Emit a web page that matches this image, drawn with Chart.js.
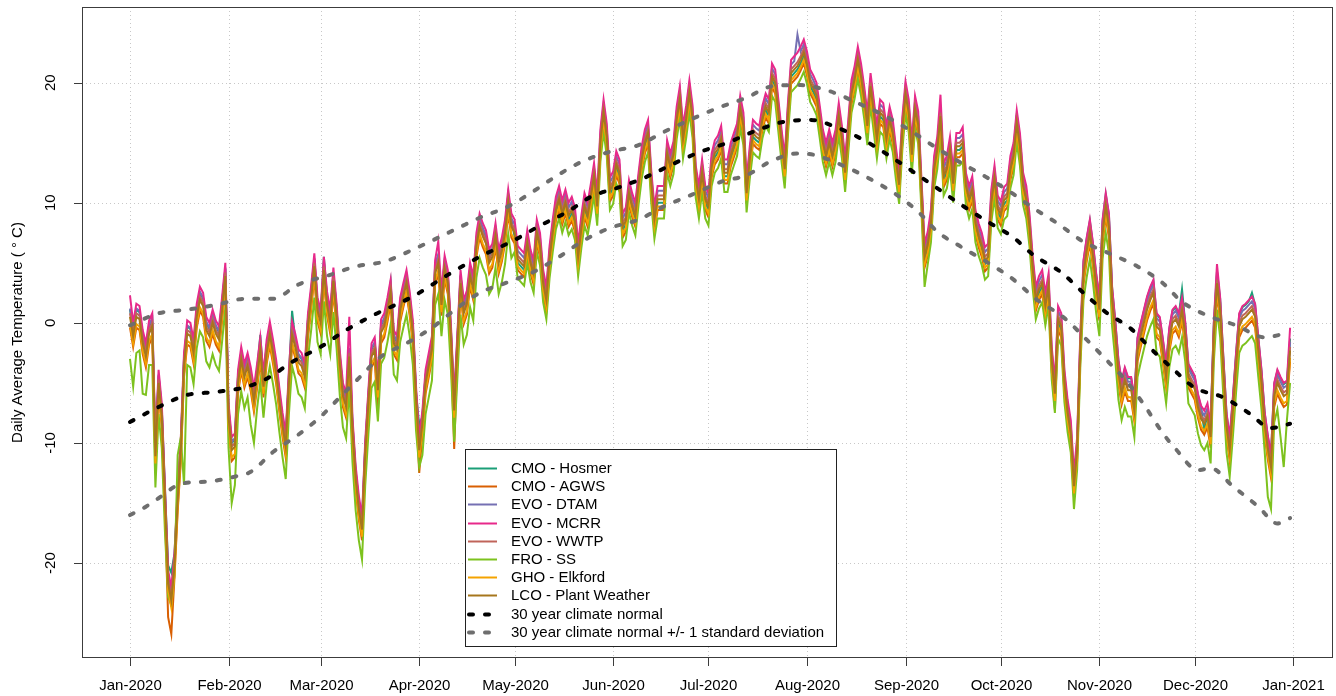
<!DOCTYPE html>
<html>
<head>
<meta charset="utf-8">
<title>Daily Average Temperature 2020</title>
<script src="https://cdn.jsdelivr.net/npm/chart.js@4.4.1/dist/chart.umd.min.js"></script>
<style>
  html, body { margin: 0; padding: 0; background: #fff; }
  #wrap { width: 1336px; height: 696px; }
</style>
</head>
<body>
<div id="wrap"><canvas id="tempChart" width="1336" height="696"></canvas></div>
<script>
// x axis: day of year 2020 (0 = Jan 1), ticks at month starts
const monthDays = [0, 31, 60, 91, 121, 152, 182, 213, 244, 274, 305, 335, 366];
const monthLabels = ['Jan-2020', 'Feb-2020', 'Mar-2020', 'Apr-2020', 'May-2020', 'Jun-2020',
    'Jul-2020', 'Aug-2020', 'Sep-2020', 'Oct-2020', 'Nov-2020', 'Dec-2020', 'Jan-2021'];
const yTicks = [-20, -10, 0, 10, 20];

const stationNames = ['CMO - Hosmer', 'CMO - AGWS', 'EVO - DTAM', 'EVO - MCRR', 'EVO - WWTP',
    'FRO - SS', 'GHO - Elkford', 'LCO - Plant Weather'];
const stationColors = ['#1B9E77', '#D95F02', '#7570B3', '#E7298A', '#C0645A', '#7DC21E', '#F4A300', '#A6761D'];

// daily average temperature, Jan 1 .. Dec 31 2020 (366 values each)
const hosmer = [
    1.1, -0.5, 1.1, 0.9, -1.1, -2.2, -0.3, 0.3, -10.5, -4.4, -7.2, -13.8, -20.2, -20.8, -19.2, -14.2, -10.0, -3.0, -0.3, -0.5,
    -1.9, 1.1, 2.5, 2.0, 0.0, -0.5, 0.6, -0.3, -0.8, 1.7, 4.5, -7.2, -10.0, -9.7, -4.4, -2.5, -3.9, -3.0, -4.2, -5.9,
    -3.9, -1.0, -4.7, -1.9, -0.4, -1.9, -3.6, -5.9, -8.0, -9.7, -4.4, 1.0, -1.4, -2.7, -3.0, -3.9, 0.3, 2.6, 5.3, 1.6,
    0.6, 5.5, 2.1, 0.6, 4.1, 1.1, -2.8, -5.5, -6.4, -2.2, -8.4, -12.4, -14.9, -16.6, -10.4, -6.1, -2.2, -1.7, -5.0, -0.2,
    0.3, 1.6, 3.4, -1.1, -1.6, 1.6, 2.8, 3.9, 2.1, -0.3, -5.8, -8.5, -7.8, -4.4, -3.0, -1.6, 4.7, 5.6, 2.1, 5.1,
    3.9, -0.8, -6.7, -1.4, 3.9, 1.4, 2.2, 4.5, 3.4, 7.0, 8.6, 7.8, 7.2, 5.6, 6.1, 7.8, 5.6, 6.6, 8.1, 10.6,
    8.6, 7.2, 5.0, 4.7, 4.4, 6.3, 4.7, 3.8, 8.3, 6.1, 3.0, 1.6, 5.0, 7.2, 9.1, 10.0, 8.8, 9.7, 8.6, 9.1,
    8.2, 5.2, 7.5, 9.4, 8.6, 10.2, 11.9, 9.4, 14.7, 17.2, 15.2, 10.7, 11.2, 12.9, 12.2, 7.7, 8.2, 10.5, 9.4, 8.6,
    11.1, 13.3, 14.7, 15.5, 11.3, 8.3, 10.0, 10.0, 10.0, 13.8, 12.7, 13.7, 16.6, 18.3, 15.0, 16.7, 18.8, 16.7, 11.7, 10.0,
    12.2, 10.0, 9.4, 12.7, 13.8, 14.2, 15.0, 12.2, 12.2, 13.6, 14.4, 15.2, 17.5, 16.1, 10.5, 13.3, 15.5, 15.2, 15.0, 16.7,
    17.7, 17.2, 20.2, 19.7, 17.2, 14.7, 12.5, 16.9, 20.5, 20.8, 21.1, 21.6, 22.2, 21.2, 19.7, 19.2, 18.6, 16.7, 14.7, 13.6,
    14.7, 13.6, 14.7, 16.9, 15.0, 12.2, 15.5, 18.8, 20.0, 21.6, 20.2, 18.3, 16.1, 19.4, 17.2, 15.0, 17.2, 16.9, 15.0, 16.6,
    15.5, 13.2, 11.2, 15.7, 18.7, 17.2, 13.7, 17.5, 16.2, 10.7, 5.2, 6.2, 8.0, 12.5, 14.1, 16.9, 11.9, 12.5, 14.1, 11.3,
    14.4, 14.4, 14.7, 11.1, 10.0, 10.8, 8.0, 6.9, 6.1, 4.9, 5.2, 9.7, 11.7, 9.2, 8.7, 9.9, 10.2, 12.5, 13.6, 17.3,
    14.4, 11.1, 10.0, 7.7, 4.2, 1.6, 2.5, 3.0, 1.1, 2.7, -3.4, -6.2, 0.0, -0.6, -5.3, -7.8, -9.5, -13.9, -10.9, -2.3,
    5.1, 7.0, 8.5, 6.5, 4.0, 2.1, 8.5, 10.7, 9.0, 2.9, 0.1, -3.2, -4.9, -3.8, -4.6, -4.6, -6.3, -1.3, -0.1, 1.0,
    2.1, 2.9, 3.5, 0.7, 0.4, -1.5, -3.5, -0.5, 1.0, 1.3, 0.7, 2.8, 0.0, -3.5, -4.0, -4.5, -6.0, -7.0, -9.0, -7.5,
    -8.5, -0.1, 4.3, 2.0, -2.9, -7.6, -9.6, -6.3, -2.6, 0.7, 1.3, 1.5, 1.8, 2.5, 1.5, -1.3, -4.0, -7.5, -9.5, -11.0,
    -5.1, -4.0, -4.6, -5.1, -4.9, -1.3
];
const agws = [
    -0.4, -2.0, -0.4, -0.6, -2.6, -3.7, -1.8, -1.2, -12.0, -5.9, -8.7, -15.7, -24.5, -25.9, -21.2, -15.7, -11.5, -4.5, -1.8, -2.0,
    -3.4, -0.4, 1.0, 0.5, -1.5, -2.0, -0.9, -1.8, -2.3, 0.2, 3.0, -8.7, -11.5, -11.2, -5.9, -4.0, -5.4, -4.5, -5.7, -7.4,
    -5.4, -3.2, -6.2, -3.4, -1.9, -3.4, -5.1, -7.4, -9.5, -11.2, -5.9, -1.9, -2.9, -4.2, -4.5, -5.4, -1.2, 1.1, 3.8, 0.1,
    -0.9, 3.5, 0.6, -0.9, 2.6, -0.4, -4.3, -7.0, -7.9, -3.7, -9.9, -13.9, -16.4, -18.1, -11.9, -7.6, -3.7, -3.2, -7.5, -1.7,
    -1.2, 0.1, 1.6, -2.6, -3.1, 0.1, 1.3, 2.4, 0.6, -1.8, -7.3, -12.5, -9.3, -5.9, -4.5, -3.1, 3.2, 4.1, 0.6, 3.6,
    2.4, -2.3, -10.5, -2.9, 2.4, -0.1, 0.7, 3.0, 1.9, 5.5, 7.1, 6.3, 5.7, 4.1, 4.6, 6.3, 4.1, 5.1, 6.6, 9.1,
    7.1, 6.6, 4.4, 4.1, 3.8, 5.7, 4.1, 3.2, 6.6, 5.5, 2.4, 1.0, 4.4, 6.6, 8.5, 9.4, 8.2, 9.1, 8.0, 8.5,
    7.6, 4.6, 6.9, 8.8, 8.0, 9.6, 11.3, 8.8, 14.1, 16.6, 14.6, 10.1, 10.6, 12.3, 11.6, 7.1, 7.6, 9.9, 8.8, 8.0,
    10.5, 12.7, 14.1, 14.9, 10.7, 7.7, 9.4, 9.4, 9.4, 13.2, 12.1, 13.1, 16.0, 17.7, 14.4, 16.1, 18.2, 16.1, 11.1, 9.4,
    11.6, 9.4, 8.8, 12.1, 13.2, 13.6, 14.4, 11.6, 11.6, 13.0, 13.8, 14.6, 16.9, 15.5, 9.9, 12.7, 14.9, 14.6, 14.4, 16.1,
    17.1, 16.6, 19.6, 19.1, 16.6, 14.1, 11.9, 16.3, 19.9, 20.2, 20.5, 21.0, 21.6, 20.6, 19.1, 18.6, 18.0, 16.1, 14.1, 13.0,
    14.1, 13.0, 14.1, 16.3, 14.4, 11.6, 14.9, 18.2, 19.4, 21.0, 19.6, 17.7, 15.5, 18.8, 16.6, 14.4, 16.6, 16.3, 14.4, 16.0,
    14.9, 12.6, 10.6, 15.1, 18.1, 16.6, 13.1, 16.9, 15.6, 10.1, 4.6, 5.6, 7.4, 11.9, 13.5, 16.3, 11.3, 11.9, 13.5, 10.7,
    13.8, 13.8, 14.1, 10.5, 9.4, 10.2, 7.4, 6.3, 5.5, 4.3, 4.6, 9.1, 11.1, 8.6, 8.1, 9.3, 9.6, 11.9, 13.0, 15.7,
    13.8, 10.5, 9.4, 7.1, 3.6, 1.0, 1.9, 2.4, 0.5, 2.1, -4.0, -7.2, -0.6, -1.2, -5.9, -8.4, -10.1, -14.5, -11.5, -2.9,
    3.2, 5.1, 6.6, 4.6, 2.1, 0.2, 6.6, 8.8, 7.1, 1.0, -1.8, -5.1, -6.8, -5.7, -6.5, -6.5, -8.2, -3.2, -2.0, -0.9,
    0.2, 1.0, 1.6, -1.2, -1.5, -3.4, -5.4, -2.4, -0.9, -0.6, -1.2, 0.1, -1.9, -5.4, -5.9, -6.4, -7.9, -8.9, -9.3, -8.7,
    -10.4, -2.0, 2.4, 0.1, -4.8, -9.5, -11.5, -8.2, -4.5, -1.2, -0.6, -0.4, -0.1, 0.2, -0.4, -3.2, -5.9, -9.4, -11.4, -12.9,
    -7.0, -5.9, -6.5, -7.0, -6.8, -3.2
];
const dtam = [
    1.2, -0.4, 1.2, 1.0, -1.0, -2.1, -0.2, 0.4, -10.4, -4.3, -7.1, -14.1, -21.0, -22.4, -19.6, -14.1, -9.9, -2.9, -0.2, -0.4,
    -1.8, 1.2, 2.6, 2.1, 0.1, -0.4, 0.7, -0.2, -0.7, 1.8, 4.6, -7.1, -9.9, -9.6, -4.3, -2.4, -3.8, -2.9, -4.1, -5.8,
    -3.8, -1.6, -4.6, -1.8, -0.3, -1.8, -3.5, -5.8, -7.9, -9.6, -4.3, -0.3, -1.3, -2.6, -2.9, -3.8, 0.4, 2.7, 5.4, 1.7,
    0.7, 5.1, 2.2, 0.7, 4.2, 1.2, -2.7, -5.4, -6.3, -2.1, -8.3, -12.3, -14.8, -16.5, -10.3, -6.0, -2.1, -1.6, -4.9, -0.1,
    0.4, 1.7, 3.2, -1.0, -1.5, 1.7, 2.9, 4.0, 2.2, -0.2, -5.7, -9.9, -7.7, -4.3, -2.9, -1.5, 4.8, 5.7, 2.2, 5.2,
    4.0, -0.7, -6.6, -1.3, 4.0, 1.5, 2.3, 4.6, 3.5, 7.1, 8.7, 7.9, 7.3, 5.7, 6.2, 7.9, 5.7, 6.7, 8.2, 10.7,
    8.7, 8.2, 6.0, 5.7, 5.4, 7.3, 5.7, 4.8, 8.2, 7.1, 4.0, 2.6, 6.0, 8.2, 10.1, 11.0, 9.8, 10.7, 9.6, 10.1,
    9.2, 6.2, 8.5, 10.4, 9.6, 11.2, 12.9, 10.4, 15.7, 18.2, 16.2, 11.7, 12.2, 13.9, 13.2, 8.7, 9.2, 11.5, 10.4, 9.6,
    12.1, 14.3, 15.7, 16.5, 12.3, 9.3, 11.0, 11.0, 11.0, 14.8, 13.7, 14.7, 17.6, 19.3, 16.0, 17.7, 19.8, 17.7, 12.7, 11.0,
    13.2, 11.0, 10.4, 13.7, 14.8, 15.2, 16.0, 13.2, 13.2, 14.6, 15.4, 16.2, 18.5, 17.1, 11.5, 14.3, 16.5, 16.2, 16.0, 17.7,
    18.7, 18.2, 21.2, 20.7, 18.2, 15.7, 13.5, 17.9, 21.5, 21.8, 24.0, 22.6, 23.2, 22.2, 20.7, 20.2, 19.6, 17.7, 15.7, 14.6,
    15.7, 14.6, 15.7, 17.9, 16.0, 13.2, 16.5, 19.8, 21.0, 22.6, 21.2, 19.3, 17.1, 20.4, 18.2, 16.0, 18.2, 17.9, 16.0, 17.6,
    16.5, 14.2, 12.2, 16.7, 19.7, 18.2, 14.7, 18.5, 17.2, 11.7, 6.2, 7.2, 9.0, 13.5, 15.1, 17.9, 12.9, 13.5, 15.1, 12.3,
    15.4, 15.4, 15.7, 12.1, 11.0, 11.8, 9.0, 7.9, 7.1, 5.9, 6.2, 10.7, 12.7, 10.2, 9.7, 10.9, 11.2, 13.5, 14.6, 17.3,
    15.4, 12.1, 11.0, 8.7, 5.2, 2.6, 3.5, 4.0, 2.1, 3.7, -2.4, -5.2, 1.0, 0.4, -4.3, -6.8, -8.5, -12.9, -9.9, -1.3,
    4.8, 6.7, 8.2, 6.2, 3.7, 1.8, 8.2, 10.4, 8.7, 2.6, -0.2, -3.5, -5.2, -4.1, -4.9, -4.9, -6.6, -1.6, -0.4, 0.7,
    1.8, 2.6, 3.2, 0.4, 0.1, -1.8, -3.8, -0.8, 0.7, 1.0, 0.4, 1.7, -0.3, -3.8, -4.3, -4.8, -6.3, -7.3, -7.7, -7.1,
    -8.8, -0.4, 4.0, 1.7, -3.2, -7.9, -9.9, -6.6, -2.9, 0.4, 1.0, 1.2, 1.5, 1.8, 1.2, -1.6, -4.3, -7.8, -9.8, -11.3,
    -5.4, -4.3, -4.9, -5.4, -5.2, -1.6
];
const mcrr = [
    2.3, 0.0, 1.6, 1.4, -0.6, -1.7, 0.2, 0.8, -10.0, -3.9, -6.7, -13.7, -20.6, -22.0, -19.2, -13.7, -9.5, -2.5, 0.2, 0.0,
    -1.4, 1.6, 3.0, 2.5, 0.5, 0.0, 1.1, 0.2, -0.3, 2.2, 5.0, -6.7, -9.5, -9.2, -3.9, -2.0, -3.4, -2.5, -3.7, -5.4,
    -3.4, -1.2, -4.2, -1.4, 0.1, -1.4, -3.1, -5.4, -7.5, -9.2, -3.9, 0.1, -0.9, -2.2, -2.5, -3.4, 0.8, 3.1, 5.8, 2.1,
    1.1, 5.5, 2.6, 1.1, 4.6, 1.6, -2.3, -5.0, -5.9, 0.5, -7.9, -11.9, -14.4, -16.1, -9.9, -5.6, -1.7, -1.2, -4.5, 0.3,
    0.8, 2.1, 3.6, -0.6, -1.1, 2.1, 3.3, 4.4, 2.6, 0.2, -5.3, -9.5, -7.3, -3.9, -2.5, -1.1, 5.2, 6.8, 2.6, 5.6,
    4.4, -0.3, -6.2, -0.9, 4.4, 1.9, 2.7, 5.0, 3.9, 7.5, 9.1, 8.3, 7.7, 6.1, 6.6, 8.3, 6.1, 7.1, 8.6, 11.1,
    9.1, 8.6, 6.4, 6.1, 5.8, 7.7, 6.1, 5.2, 8.6, 7.5, 4.4, 3.0, 6.4, 8.6, 10.5, 11.4, 10.2, 11.1, 10.0, 10.5,
    9.6, 6.6, 8.9, 10.8, 10.0, 11.6, 13.3, 10.8, 16.1, 18.6, 16.6, 12.1, 12.6, 14.3, 13.6, 9.1, 9.6, 11.9, 10.8, 10.0,
    12.5, 14.7, 16.1, 16.9, 12.7, 9.7, 11.4, 11.4, 11.4, 15.2, 14.1, 15.1, 18.0, 19.7, 16.4, 18.1, 20.2, 18.1, 13.1, 11.4,
    13.6, 11.4, 10.8, 14.1, 15.2, 15.6, 16.4, 13.6, 13.6, 15.0, 15.8, 16.6, 18.9, 17.5, 11.9, 14.7, 16.9, 16.6, 16.4, 18.1,
    19.1, 18.6, 21.6, 21.1, 18.6, 16.1, 13.9, 18.3, 21.9, 22.2, 22.5, 23.0, 23.6, 22.6, 21.1, 20.6, 20.0, 18.1, 16.1, 15.0,
    16.1, 15.0, 16.1, 18.3, 16.4, 13.6, 16.9, 20.2, 21.4, 23.0, 21.6, 19.7, 17.5, 20.8, 18.6, 16.4, 18.6, 18.3, 16.4, 18.0,
    16.9, 14.6, 12.6, 17.1, 20.1, 18.6, 15.1, 18.9, 17.6, 12.1, 6.6, 7.6, 9.4, 13.9, 15.5, 19.0, 13.3, 13.9, 15.5, 12.7,
    15.8, 15.8, 16.3, 12.5, 11.4, 12.2, 9.4, 8.3, 7.5, 6.3, 6.6, 11.1, 13.1, 10.6, 10.1, 11.3, 11.6, 13.9, 15.0, 17.7,
    15.8, 12.5, 11.4, 9.1, 5.6, 3.0, 3.9, 4.4, 2.5, 4.1, -2.0, -4.8, 1.4, 0.8, -3.9, -6.4, -8.1, -12.5, -9.5, -0.9,
    5.2, 7.1, 8.6, 6.6, 4.1, 2.2, 8.6, 10.8, 9.1, 3.0, 0.2, -3.1, -4.8, -3.7, -4.5, -4.5, -6.2, -1.2, 0.0, 1.1,
    2.2, 3.0, 3.6, 0.8, 0.5, -1.4, -3.4, -0.4, 1.1, 1.4, 0.8, 2.1, 0.1, -3.4, -3.9, -4.4, -5.9, -6.9, -7.3, -6.7,
    -8.4, 0.0, 4.9, 2.1, -2.8, -7.5, -9.5, -6.2, -2.5, 0.8, 1.4, 1.6, 1.9, 2.2, 1.6, -1.2, -3.9, -7.4, -9.4, -10.9,
    -5.0, -3.9, -4.5, -5.0, -4.8, -0.4
];
const wwtp = [
    0.8, -0.8, 0.8, 0.6, -1.4, -2.5, -0.6, 0.0, -10.8, -4.7, -7.5, -14.5, -21.4, -22.8, -20.0, -14.5, -10.3, -3.3, -0.6, -0.8,
    -2.2, 0.8, 2.2, 1.7, -0.3, -0.8, 0.3, -0.6, -1.1, 1.4, 4.2, -7.5, -10.3, -10.0, -4.7, -2.8, -4.2, -3.3, -4.5, -6.2,
    -4.2, -2.0, -5.0, -2.2, -0.7, -2.2, -3.9, -6.2, -8.3, -10.0, -4.7, -0.7, -1.7, -3.0, -3.3, -4.2, 0.0, 2.3, 5.0, 1.3,
    0.3, 4.7, 1.8, 0.3, 3.8, 0.8, -3.1, -5.8, -6.7, -2.5, -8.7, -12.7, -15.2, -16.9, -10.7, -6.4, -2.5, -2.0, -5.3, -0.5,
    0.0, 1.3, 2.8, -1.4, -1.9, 1.3, 2.5, 3.6, 1.8, -0.6, -6.1, -10.3, -8.1, -4.7, -3.3, -1.9, 4.4, 5.3, 1.8, 4.8,
    3.6, -1.1, -7.0, -1.7, 3.6, 1.1, 1.9, 4.2, 3.1, 6.7, 8.3, 7.5, 6.9, 5.3, 5.8, 7.5, 5.3, 6.3, 7.8, 10.3,
    8.3, 7.8, 5.6, 5.3, 5.0, 6.9, 5.3, 4.4, 7.8, 6.7, 3.6, 2.2, 5.6, 7.8, 9.7, 10.6, 9.4, 10.3, 9.2, 9.7,
    8.8, 5.8, 8.1, 10.0, 9.2, 10.8, 12.5, 10.0, 15.3, 17.8, 15.8, 11.3, 11.8, 13.5, 12.8, 8.3, 8.8, 11.1, 10.0, 9.2,
    11.7, 13.9, 15.3, 16.1, 11.9, 8.9, 10.6, 10.6, 10.6, 14.4, 13.3, 14.3, 17.2, 18.9, 15.6, 17.3, 19.4, 17.3, 12.3, 10.6,
    12.8, 10.6, 10.0, 13.3, 14.4, 14.8, 15.6, 12.8, 12.8, 14.2, 15.0, 15.8, 18.1, 16.7, 11.1, 13.9, 16.1, 15.8, 15.6, 17.3,
    18.3, 17.8, 20.8, 20.3, 17.8, 15.3, 13.1, 17.5, 21.1, 21.4, 21.7, 22.2, 22.8, 21.8, 20.3, 19.8, 19.2, 17.3, 15.3, 14.2,
    15.3, 14.2, 15.3, 17.5, 15.6, 12.8, 16.1, 19.4, 20.6, 22.2, 20.8, 18.9, 16.7, 20.0, 17.8, 15.6, 17.8, 17.5, 15.6, 17.2,
    16.1, 13.8, 11.8, 16.3, 19.3, 17.8, 14.3, 18.1, 16.8, 11.3, 5.8, 6.8, 8.6, 13.1, 14.7, 17.5, 12.5, 13.1, 14.7, 11.9,
    15.0, 15.0, 15.3, 11.7, 10.6, 11.4, 8.6, 7.5, 6.7, 5.5, 5.8, 10.3, 12.3, 9.8, 9.3, 10.5, 10.8, 13.1, 14.2, 16.9,
    15.0, 11.7, 10.6, 8.3, 4.8, 2.2, 3.1, 3.6, 1.7, 3.3, -2.8, -5.6, 0.6, 0.0, -4.7, -7.2, -8.9, -13.3, -10.3, -1.7,
    4.4, 6.3, 7.8, 5.8, 3.3, 1.4, 7.8, 10.0, 8.3, 2.2, -0.6, -3.9, -5.6, -4.5, -5.3, -5.3, -7.0, -2.0, -0.8, 0.3,
    1.4, 2.2, 2.8, 0.0, -0.3, -2.2, -4.2, -1.2, 0.3, 0.6, 0.0, 1.3, -0.7, -4.2, -4.7, -5.2, -6.7, -7.7, -8.1, -7.5,
    -9.2, -0.8, 3.6, 1.3, -3.6, -8.3, -10.3, -7.0, -3.3, 0.0, 0.6, 0.8, 1.1, 1.4, 0.8, -2.0, -4.7, -8.2, -10.2, -11.7,
    -5.8, -4.7, -5.3, -5.8, -5.6, -2.0
];
const froSS = [
    -3.0, -5.3, -2.5, -2.3, -5.9, -6.0, -3.5, -3.5, -13.7, -7.6, -10.4, -17.4, -22.8, -23.5, -21.0, -11.0, -9.5, -13.5, -3.5, -3.7,
    -5.1, -2.1, -0.7, -1.2, -3.2, -3.7, -2.6, -3.5, -4.0, -1.5, 1.3, -10.4, -15.0, -13.5, -7.6, -5.7, -7.1, -6.2, -8.5, -10.0,
    -7.1, -4.9, -7.9, -5.1, -3.6, -5.1, -6.8, -9.1, -11.2, -13.0, -7.6, -3.6, -4.6, -5.9, -6.2, -7.1, -2.9, -0.6, 2.1, -1.6,
    -2.6, 1.8, -1.1, -2.6, 0.9, -2.1, -6.0, -8.7, -9.6, -5.4, -11.6, -15.6, -18.1, -19.7, -13.6, -9.3, -5.4, -4.9, -8.2, -3.4,
    -2.9, -1.6, -0.1, -4.3, -4.8, -1.6, -0.4, 0.7, -1.1, -3.5, -9.0, -12.0, -11.0, -7.6, -6.2, -4.8, 1.5, 2.4, -1.1, 1.9,
    0.7, -4.0, -9.9, -4.6, 0.7, -1.8, -1.0, 1.3, 0.2, 3.8, 5.4, 4.6, 4.0, 2.4, 2.9, 4.6, 2.4, 3.4, 4.9, 7.4,
    5.4, 5.9, 3.7, 3.4, 3.1, 5.0, 3.4, 2.5, 5.9, 4.8, 1.7, 0.3, 3.7, 5.9, 7.8, 8.7, 7.5, 8.4, 7.3, 7.8,
    6.9, 3.9, 6.2, 8.1, 7.3, 8.9, 10.6, 8.1, 13.4, 15.9, 13.9, 9.4, 9.9, 11.6, 10.9, 6.4, 6.9, 9.2, 8.1, 7.3,
    9.8, 12.0, 13.4, 14.2, 10.0, 7.0, 8.7, 8.7, 8.7, 12.5, 11.4, 12.4, 15.3, 17.0, 13.7, 15.4, 17.5, 15.4, 10.4, 8.7,
    10.9, 8.7, 8.1, 11.4, 12.5, 12.9, 13.7, 10.9, 10.9, 12.3, 13.1, 13.9, 16.2, 14.8, 9.2, 12.0, 14.2, 13.9, 13.7, 15.4,
    16.4, 15.9, 18.9, 18.4, 15.9, 13.4, 11.2, 15.6, 19.2, 19.5, 19.8, 20.3, 20.9, 19.9, 18.4, 17.9, 17.3, 15.4, 13.4, 12.3,
    13.4, 12.3, 13.4, 15.6, 13.7, 10.9, 14.2, 17.5, 18.7, 20.3, 18.9, 17.0, 14.8, 18.1, 15.9, 13.7, 15.9, 15.6, 13.7, 15.3,
    14.2, 11.9, 9.9, 14.4, 17.4, 15.9, 12.4, 16.2, 14.9, 9.4, 3.0, 4.9, 6.7, 11.2, 12.8, 15.6, 10.6, 11.2, 12.8, 10.0,
    13.1, 13.1, 13.4, 9.8, 8.7, 9.5, 6.7, 5.6, 4.8, 3.6, 3.9, 8.4, 10.4, 7.9, 7.4, 8.6, 8.9, 11.2, 12.3, 15.0,
    13.1, 9.8, 8.7, 6.4, 2.9, 0.3, 1.2, 1.7, -0.2, 1.4, -4.7, -7.5, -1.3, -1.9, -6.6, -9.1, -10.8, -15.5, -12.2, -3.6,
    1.9, 3.8, 5.3, 3.3, 0.8, -1.1, 5.3, 7.5, 5.8, -0.3, -3.1, -6.4, -8.1, -7.0, -7.8, -7.8, -9.5, -4.5, -3.3, -2.2,
    -1.1, -0.3, 0.3, -2.5, -2.8, -4.7, -6.7, -3.7, -2.2, -1.9, -2.5, -1.2, -3.2, -6.7, -7.2, -7.7, -9.2, -10.2, -10.6, -10.0,
    -11.7, -3.3, 1.1, -1.2, -6.1, -10.8, -12.8, -9.5, -5.8, -2.5, -1.9, -1.7, -1.4, -1.1, -1.7, -4.5, -7.2, -10.7, -14.5, -15.5,
    -8.3, -7.2, -9.5, -12.0, -8.1, -5.0
];
const elkford = [
    -0.1, -1.7, -0.1, -0.3, -2.3, -3.4, -1.5, -0.9, -11.7, -5.6, -8.4, -15.4, -22.3, -23.7, -20.9, -15.4, -11.2, -4.2, -1.5, -1.7,
    -3.1, -0.1, 1.3, 0.8, -1.2, -1.7, -0.6, -1.5, -2.0, 0.5, 3.3, -8.4, -11.2, -10.9, -5.6, -3.7, -5.1, -4.2, -5.4, -7.1,
    -5.1, -2.9, -5.9, -3.1, -1.6, -3.1, -4.8, -7.1, -9.2, -10.9, -5.6, -1.6, -2.6, -3.9, -4.2, -5.1, -0.9, 1.4, 4.1, 0.4,
    -0.6, 3.8, 0.9, -0.6, 2.9, -0.1, -4.0, -6.7, -7.6, -3.4, -9.6, -13.6, -16.1, -17.8, -11.6, -7.3, -3.4, -2.9, -6.2, -1.4,
    -0.9, 0.4, 1.9, -2.3, -2.8, 0.4, 1.6, 2.7, 0.9, -1.5, -7.0, -11.2, -9.0, -5.6, -4.2, -2.8, 3.5, 4.4, 0.9, 3.9,
    2.7, -2.0, -7.9, -2.6, 2.7, 0.2, 1.0, 3.3, 2.2, 5.8, 7.4, 6.6, 6.0, 4.4, 4.9, 6.6, 4.4, 5.4, 6.9, 9.4,
    7.4, 6.9, 4.7, 4.4, 4.1, 6.0, 4.4, 3.5, 6.9, 5.8, 2.7, 1.3, 4.7, 6.9, 8.8, 9.7, 8.5, 9.4, 8.3, 8.8,
    7.9, 4.9, 7.2, 9.1, 8.3, 9.9, 11.6, 9.1, 14.4, 16.9, 14.9, 10.4, 10.9, 12.6, 11.9, 7.4, 7.9, 10.2, 9.1, 8.3,
    10.8, 13.0, 14.4, 15.2, 11.0, 8.0, 9.7, 9.7, 9.7, 13.5, 12.4, 13.4, 16.3, 18.0, 14.7, 16.4, 18.5, 16.4, 11.4, 9.7,
    11.9, 9.7, 9.1, 12.4, 13.5, 13.9, 14.7, 11.9, 11.9, 13.3, 14.1, 14.9, 17.2, 15.8, 10.2, 13.0, 15.2, 14.9, 14.7, 16.4,
    17.4, 16.9, 19.9, 19.4, 16.9, 14.4, 12.2, 16.6, 20.2, 20.5, 20.8, 21.3, 21.9, 20.9, 19.4, 18.9, 18.3, 16.4, 14.4, 13.3,
    14.4, 13.3, 14.4, 16.6, 14.7, 11.9, 15.2, 18.5, 19.7, 21.3, 19.9, 18.0, 15.8, 19.1, 16.9, 14.7, 16.9, 16.6, 14.7, 16.3,
    15.2, 12.9, 10.9, 15.4, 18.4, 16.9, 13.4, 17.2, 15.9, 10.4, 4.9, 5.9, 7.7, 12.2, 13.8, 16.6, 11.6, 12.2, 13.8, 11.0,
    14.1, 14.1, 14.4, 10.8, 9.7, 10.5, 7.7, 6.6, 5.8, 4.6, 4.9, 9.4, 11.4, 8.9, 8.4, 9.6, 9.9, 12.2, 13.3, 16.0,
    14.1, 10.8, 9.7, 7.4, 3.9, 1.3, 2.2, 2.7, 0.8, 2.4, -3.7, -6.5, -0.3, -0.9, -5.6, -8.1, -9.8, -14.2, -11.2, -2.6,
    3.5, 5.4, 6.9, 4.9, 2.4, 0.5, 6.9, 9.1, 7.4, 1.3, -1.5, -4.8, -6.5, -5.4, -6.2, -6.2, -7.9, -2.9, -1.7, -0.6,
    0.5, 1.3, 1.9, -0.9, -1.2, -3.1, -5.1, -2.1, -0.6, -0.3, -0.9, 0.4, -1.6, -5.1, -5.6, -6.1, -7.6, -8.6, -9.0, -8.4,
    -10.1, -1.7, 2.7, 0.4, -4.5, -9.2, -11.2, -7.9, -4.2, -0.9, -0.3, -0.1, 0.2, 0.5, -0.1, -2.9, -5.6, -9.1, -11.1, -12.6,
    -6.7, -5.6, -6.2, -6.7, -6.5, -2.9
];
const lcoPlant = [
    0.5, -1.1, 0.5, 0.3, -1.7, -2.8, -0.9, -0.3, -11.1, -5.0, -7.8, -14.8, -21.7, -23.1, -20.3, -14.8, -10.6, -3.6, -0.9, -1.1,
    -2.5, 0.5, 1.9, 1.4, -0.6, -1.1, 0.0, -0.9, -1.4, 1.1, 3.9, -7.8, -10.6, -10.3, -5.0, -3.1, -4.5, -3.6, -4.8, -6.5,
    -4.5, -2.3, -5.3, -2.5, -1.0, -2.5, -4.2, -6.5, -8.6, -10.3, -5.0, -1.0, -2.0, -3.3, -3.6, -4.5, -0.3, 2.0, 4.7, 1.0,
    0.0, 4.4, 1.5, 0.0, 3.5, 0.5, -3.4, -6.1, -7.0, -2.8, -9.0, -13.0, -15.5, -17.2, -11.0, -6.7, -2.8, -2.3, -5.6, -0.8,
    -0.3, 1.0, 2.5, -1.7, -2.2, 1.0, 2.2, 3.3, 1.5, -0.9, -6.4, -10.6, -8.4, -5.0, -3.6, -2.2, 4.1, 5.0, 1.5, 4.5,
    3.3, -1.4, -7.3, -2.0, 3.3, 0.8, 1.6, 3.9, 2.8, 6.4, 8.0, 7.2, 6.6, 5.0, 5.5, 7.2, 5.0, 6.0, 7.5, 10.0,
    8.0, 7.5, 5.3, 5.0, 4.7, 6.6, 5.0, 4.1, 7.5, 6.4, 3.3, 1.9, 5.3, 7.5, 9.4, 10.3, 9.1, 10.0, 8.9, 9.4,
    8.5, 5.5, 7.8, 9.7, 8.9, 10.5, 12.2, 9.7, 15.0, 17.5, 15.5, 11.0, 11.5, 13.2, 12.5, 8.0, 8.5, 10.8, 9.7, 8.9,
    11.4, 13.6, 15.0, 15.8, 11.6, 8.6, 10.3, 10.3, 10.3, 14.1, 13.0, 14.0, 16.9, 18.6, 15.3, 17.0, 19.1, 17.0, 12.0, 10.3,
    12.5, 10.3, 9.7, 13.0, 14.1, 14.5, 15.3, 12.5, 12.5, 13.9, 14.7, 15.5, 17.8, 16.4, 10.8, 13.6, 15.8, 15.5, 15.3, 17.0,
    18.0, 17.5, 20.5, 20.0, 17.5, 15.0, 12.8, 17.2, 20.8, 21.1, 21.4, 21.9, 22.5, 21.5, 20.0, 19.5, 18.9, 17.0, 15.0, 13.9,
    15.0, 13.9, 15.0, 17.2, 15.3, 12.5, 15.8, 19.1, 20.3, 21.9, 20.5, 18.6, 16.4, 19.7, 17.5, 15.3, 17.5, 17.2, 15.3, 16.9,
    15.8, 13.5, 11.5, 16.0, 19.0, 17.5, 14.0, 17.8, 16.5, 11.0, 5.5, 6.5, 8.3, 12.8, 14.4, 17.2, 12.2, 12.8, 14.4, 11.6,
    14.7, 14.7, 15.0, 11.4, 10.3, 11.1, 8.3, 7.2, 6.4, 5.2, 5.5, 10.0, 12.0, 9.5, 9.0, 10.2, 10.5, 12.8, 13.9, 16.6,
    14.7, 11.4, 10.3, 8.0, 4.5, 1.9, 2.8, 3.3, 1.4, 3.0, -3.1, -5.9, 0.3, -0.3, -5.0, -7.5, -9.2, -13.6, -10.6, -2.0,
    4.1, 6.0, 7.5, 5.5, 3.0, 1.1, 7.5, 9.7, 8.0, 1.9, -0.9, -4.2, -5.9, -4.8, -5.6, -5.6, -7.3, -2.3, -1.1, 0.0,
    1.1, 1.9, 2.5, -0.3, -0.6, -2.5, -4.5, -1.5, 0.0, 0.3, -0.3, 1.0, -1.0, -4.5, -5.0, -5.5, -7.0, -8.0, -8.4, -7.8,
    -9.5, -1.1, 3.3, 1.0, -3.9, -8.6, -10.6, -7.3, -3.6, -0.3, 0.3, 0.5, 0.8, 1.1, 0.5, -2.3, -5.0, -8.5, -10.5, -12.0,
    -6.1, -5.0, -5.6, -6.1, -5.9, -2.3
];

// 30 year climate normal (mean) and +/- 1 standard deviation, read at selected days
const meanDays = [0, 9, 18, 27, 37, 44, 51, 60, 68, 77, 89, 100, 110, 121, 129, 138, 145, 154, 162, 171, 179, 188,
    196, 205, 214, 223, 231, 239, 251, 262, 270, 278, 284, 293, 300, 307, 315, 321, 328, 335, 344, 352, 359, 365];
const meanTemp = [-8.25, -7.0, -6.0, -5.75, -5.3, -4.5, -3.25, -2.0, -0.6, 0.7, 2.2, 4.0, 5.5, 6.9, 8.1, 9.3, 10.5, 11.3,
    12.1, 13.25, 14.2, 15.0, 15.9, 16.7, 16.9, 16.2, 15.2, 13.9, 11.75, 9.75, 8.4, 7.1, 5.7, 4.2, 2.5, 0.9, -0.5, -2.1,
    -3.8, -5.4, -6.2, -7.5, -8.75, -8.4];
const upperDays = [0, 9, 18, 27, 36, 45, 53, 63, 71, 80, 89, 97, 104, 110, 119, 126, 134, 142, 151, 160, 168, 177, 185,
    194, 202, 211, 220, 229, 237, 245, 253, 261, 269, 277, 284, 292, 300, 308, 317, 325, 331, 340, 348, 357, 364];
const upperTemp = [-0.2, 0.8, 1.1, 1.5, 2.0, 2.0, 3.2, 4.0, 4.7, 5.1, 6.1, 7.1, 8.0, 8.75, 9.7, 10.8, 12.2, 13.4, 14.25,
    14.8, 15.9, 17.0, 17.9, 18.75, 19.7, 19.8, 19.3, 18.3, 17.3, 16.1, 14.7, 13.4, 12.2, 10.9, 9.6, 8.25, 6.75, 5.8, 4.7,
    3.3, 1.75, 0.5, -0.2, -1.2, -0.85];
const lowerDays = [0, 5, 9, 16, 25, 33, 38, 45, 53, 60, 66, 72, 79, 87, 95, 103, 110, 119, 127, 135, 143, 151, 160, 168,
    177, 186, 194, 202, 210, 215, 223, 232, 241, 248, 254, 262, 270, 278, 285, 294, 301, 308, 314, 319, 325, 329, 336,
    340, 347, 355, 361, 365];
const lowerTemp = [-16.0, -15.3, -14.6, -13.4, -13.2, -12.8, -12.4, -10.75, -9.3, -7.8, -6.2, -4.6, -2.8, -1.7, -0.4, 1.25,
    2.5, 3.4, 4.25, 5.5, 6.9, 7.9, 8.6, 9.7, 10.7, 11.75, 12.3, 13.5, 14.1, 14.0, 13.25, 12.1, 10.7, 9.25, 7.6, 6.25, 5.0,
    3.6, 2.0, 0.4, -1.4, -3.3, -5.0, -6.8, -9.2, -10.5, -12.25, -12.1, -13.6, -15.3, -16.7, -16.25];

const stationSeries = [hosmer, agws, dtam, mcrr, wwtp, froSS, elkford, lcoPlant];

const FONT = '15px "Liberation Sans", Arial, sans-serif';
const normalDash = [4, 12];

const toPoints = (xs, ys) => xs.map((x, i) => ({ x: x, y: ys[i] }));

const datasets = stationSeries.map((vals, i) => ({
    label: stationNames[i],
    data: vals.map((v, d) => ({ x: d, y: v })),
    borderColor: stationColors[i],
    borderWidth: 2,
    pointRadius: 0,
    fill: false,
    order: 10 - i   // later stations drawn on top, like the base R plot
}));

const normalStyle = {
    borderWidth: 4,
    borderDash: normalDash,
    borderCapStyle: 'round',
    pointRadius: 0,
    fill: false,
    cubicInterpolationMode: 'monotone'
};
datasets.push(Object.assign({ label: '30 year climate normal', data: toPoints(meanDays, meanTemp),
    borderColor: '#000000', order: 2 }, normalStyle));
datasets.push(Object.assign({ label: '30 year climate normal +/- 1 standard deviation', data: toPoints(upperDays, upperTemp),
    borderColor: '#6e6e6e', order: 1 }, normalStyle));
datasets.push(Object.assign({ label: 'sd lower', data: toPoints(lowerDays, lowerTemp),
    borderColor: '#6e6e6e', order: 1 }, normalStyle));

// grid, box, axes and legend drawn in the style of a base R plot
const rFrame = {
    id: 'rFrame',
    beforeDatasetsDraw(chart) {
        const { ctx, chartArea: a, scales } = chart;
        ctx.save();
        ctx.strokeStyle = '#c8c8c8';
        ctx.lineWidth = 1;
        ctx.setLineDash([1, 3]);
        ctx.beginPath();
        monthDays.forEach(d => {
            const px = Math.round(scales.x.getPixelForValue(d)) + 0.5;
            ctx.moveTo(px, a.top);
            ctx.lineTo(px, a.bottom);
        });
        yTicks.forEach(v => {
            const py = Math.round(scales.y.getPixelForValue(v)) + 0.5;
            ctx.moveTo(a.left, py);
            ctx.lineTo(a.right, py);
        });
        ctx.stroke();
        ctx.restore();
    },
    afterDraw(chart) {
        const { ctx, chartArea: a, scales } = chart;
        ctx.save();

        // plot box
        ctx.strokeStyle = '#3c3c3c';
        ctx.lineWidth = 1;
        ctx.strokeRect(a.left + 0.5, a.top + 0.5, a.right - a.left - 1, a.bottom - a.top - 1);

        // x ticks + labels
        ctx.fillStyle = '#000';
        ctx.font = FONT;
        ctx.textAlign = 'center';
        ctx.textBaseline = 'middle';
        ctx.beginPath();
        monthDays.forEach((d, i) => {
            const px = Math.round(scales.x.getPixelForValue(d)) + 0.5;
            ctx.moveTo(px, a.bottom);
            ctx.lineTo(px, a.bottom + 8);
            ctx.fillText(monthLabels[i], px, a.bottom + 28);
        });
        // y ticks
        yTicks.forEach(v => {
            const py = Math.round(scales.y.getPixelForValue(v)) + 0.5;
            ctx.moveTo(a.left - 8, py);
            ctx.lineTo(a.left, py);
        });
        ctx.stroke();

        // y tick labels, rotated like R's las = 0
        yTicks.forEach(v => {
            const py = scales.y.getPixelForValue(v);
            ctx.save();
            ctx.translate(51, py);
            ctx.rotate(-Math.PI / 2);
            ctx.fillText(String(v), 0, 0);
            ctx.restore();
        });
        ctx.save();
        ctx.translate(18, (a.top + a.bottom) / 2);
        ctx.rotate(-Math.PI / 2);
        ctx.fillText('Daily Average Temperature ( \u00B0 C)', 0, 0);
        ctx.restore();

        drawLegend(ctx);
        ctx.restore();
    }
};

function drawLegend(ctx) {
    const box = { x: 465, y: 449, w: 371, h: 197 };
    ctx.save();
    ctx.fillStyle = '#fff';
    ctx.fillRect(box.x, box.y, box.w, box.h);
    ctx.strokeStyle = '#222';
    ctx.lineWidth = 1;
    ctx.strokeRect(box.x + 0.5, box.y + 0.5, box.w, box.h);

    const entries = stationNames.map((n, i) => ({ text: n, color: stationColors[i], dashed: false }));
    entries.push({ text: '30 year climate normal', color: '#000', dashed: true });
    entries.push({ text: '30 year climate normal +/- 1 standard deviation', color: '#6e6e6e', dashed: true });

    ctx.font = FONT;
    ctx.textAlign = 'left';
    ctx.textBaseline = 'middle';
    entries.forEach((e, i) => {
        const y = Math.round(468 + i * 18.2) + 0.5;
        ctx.beginPath();
        ctx.strokeStyle = e.color;
        if (e.dashed) {
            ctx.lineWidth = 4;
            ctx.lineCap = 'round';
            ctx.setLineDash(normalDash);
            ctx.moveTo(469, y);
            ctx.lineTo(497, y);
        } else {
            ctx.lineWidth = 2;
            ctx.lineCap = 'butt';
            ctx.setLineDash([]);
            ctx.moveTo(468, y);
            ctx.lineTo(497, y);
        }
        ctx.stroke();
        ctx.setLineDash([]);
        ctx.fillStyle = '#000';
        ctx.fillText(e.text, 511, y);
    });
    ctx.restore();
}

new Chart(document.getElementById('tempChart'), {
    type: 'line',
    data: { datasets: datasets },
    options: {
        responsive: false,
        animation: false,
        devicePixelRatio: 1,
        layout: { padding: { left: 82, right: 3, top: 7, bottom: 38 } },
        scales: {
            x: { type: 'linear', min: -15.1, max: 378.5, display: false },
            y: { type: 'linear', min: -27.9, max: 26.3, display: false }
        },
        plugins: {
            legend: { display: false },
            tooltip: { enabled: false }
        },
        elements: { line: { tension: 0 } }
    },
    plugins: [rFrame]
});
</script>
</body>
</html>
